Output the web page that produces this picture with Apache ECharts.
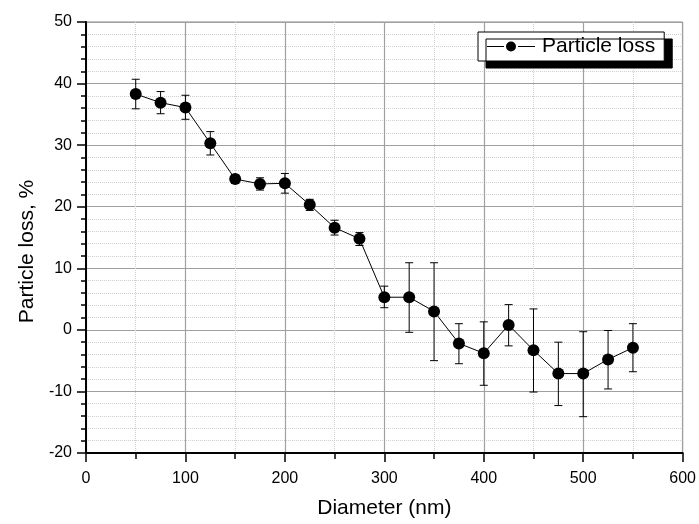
<!DOCTYPE html>
<html>
<head>
<meta charset="utf-8">
<script src="https://cdn.jsdelivr.net/npm/echarts@6/dist/echarts.min.js"></script>
<style>
  html, body { margin: 0; padding: 0; background: #fff; }
  #chart { width: 699px; height: 524px; }
</style>
</head>
<body>
<div id="chart"></div>
<script>
// diameter (nm)
const diameters = [50, 75, 100, 125, 150, 175, 200, 225, 250, 275, 300, 325, 350, 375, 400, 425, 450, 475, 500, 525, 550]
// particle loss, %
const loss = [38.3, 36.9, 36.1, 30.3, 24.5, 23.7, 23.8, 20.3, 16.6, 14.8, 5.3, 5.3, 3.0, -2.2, -3.8, 0.8, -3.3, -7.1, -7.1, -4.8, -2.9]
// error bar ends
const errUpper = [40.7, 38.7, 38.1, 32.2, 25.2, 24.7, 25.4, 21.2, 17.8, 15.8, 7.1, 10.9, 10.9, 1.0, 1.3, 4.1, 3.4, -2.0, -0.3, -0.1, 1.0]
const errLower = [35.9, 35.1, 34.2, 28.4, 23.8, 22.7, 22.2, 19.4, 15.4, 13.7, 3.6, -0.4, -5.0, -5.5, -9.0, -2.6, -10.1, -12.3, -14.1, -9.6, -6.8]

const font = '"Liberation Sans", Arial, sans-serif'
const chart = echarts.init(document.getElementById('chart'))

// error bars: vertical line with small caps
const renderErrorBar = (params, api) => {
  const x = api.value(0)
  const top = api.coord([x, api.value(1)])
  const bot = api.coord([x, api.value(2)])
  const hw = 4
  const style = { stroke: '#000', lineWidth: 1 }
  return {
    type: 'group',
    children: [
      { type: 'line', shape: { x1: top[0], y1: top[1], x2: bot[0], y2: bot[1] }, style },
      { type: 'line', shape: { x1: top[0] - hw, y1: top[1], x2: top[0] + hw, y2: top[1] }, style },
      { type: 'line', shape: { x1: bot[0] - hw, y1: bot[1], x2: bot[0] + hw, y2: bot[1] }, style }
    ]
  }
}

// legend icon: line - dot - line, like the origin style
const legendIcon = 'path://M0,5.4H17V6.6H0Z M31,5.4H48V6.6H31Z M24,1A5,5,0,1,1,23.99,1Z'

const option = {
  animation: false,
  backgroundColor: '#fff',
  textStyle: { fontFamily: font },
  grid: {
    left: 86, right: 15, top: 22, bottom: 69,
    show: true, borderColor: '#888', borderWidth: 1
  },
  legend: {
    data: [{ name: 'Particle loss', icon: legendIcon }],
    left: 478, top: 32,
    orient: 'horizontal',
    itemWidth: 48, itemHeight: 12, itemGap: 0,
    symbolKeepAspect: true,
    padding: [4, 9, 4, 9],
    backgroundColor: '#fff',
    borderColor: '#000', borderWidth: 1, borderRadius: 0,
    shadowColor: '#000', shadowBlur: 0, shadowOffsetX: 8, shadowOffsetY: 7,
    textStyle: { fontSize: 21, color: '#000', fontFamily: font, padding: [0, 0, 0, 2] }
  },
  xAxis: {
    type: 'value',
    min: 0, max: 600, interval: 100,
    name: 'Diameter (nm)',
    nameLocation: 'middle',
    nameGap: 45,
    nameTextStyle: { fontSize: 21, color: '#000', fontFamily: font },
    axisLine: { onZero: false, lineStyle: { color: '#000', width: 2 } },
    axisTick: { inside: false, length: 9, lineStyle: { color: '#000', width: 1.5 } },
    minorTick: { show: true, splitNumber: 2, length: 6, lineStyle: { color: '#000', width: 1.5 } },
    axisLabel: { fontSize: 16, color: '#000', margin: 18, fontFamily: font },
    splitLine: { lineStyle: { color: '#a0a0a0', width: 1.2 } },
    minorSplitLine: { show: true, lineStyle: { color: '#cfcfcf', type: 'dotted', width: 1 } }
  },
  yAxis: {
    type: 'value',
    min: -20, max: 50, interval: 10,
    name: 'Particle loss, %',
    nameLocation: 'middle',
    nameGap: 47,
    nameRotate: 90,
    nameTextStyle: { fontSize: 21, color: '#000', fontFamily: font, padding: [0, 28, 0, 0] },
    axisLine: { onZero: false, lineStyle: { color: '#000', width: 2 } },
    axisTick: { inside: false, length: 9, lineStyle: { color: '#000', width: 1.5 } },
    minorTick: { show: true, splitNumber: 5, length: 5, lineStyle: { color: '#000', width: 1.5 } },
    axisLabel: { fontSize: 16, color: '#000', margin: 14, fontFamily: font },
    splitLine: { lineStyle: { color: '#a0a0a0', width: 1.2 } },
    minorSplitLine: { show: true, lineStyle: { color: '#cfcfcf', type: 'dotted', width: 1 } }
  },
  series: [
    {
      name: 'errors',
      type: 'custom',
      renderItem: renderErrorBar,
      data: diameters.map((d, i) => [d, errUpper[i], errLower[i]]),
      z: 2
    },
    {
      name: 'Particle loss',
      type: 'line',
      data: diameters.map((d, i) => [d, loss[i]]),
      symbol: 'circle',
      symbolSize: 12,
      lineStyle: { color: '#000', width: 1 },
      itemStyle: { color: '#000' },
      z: 3
    }
  ]
}
chart.setOption(option)
</script>
</body>
</html>
